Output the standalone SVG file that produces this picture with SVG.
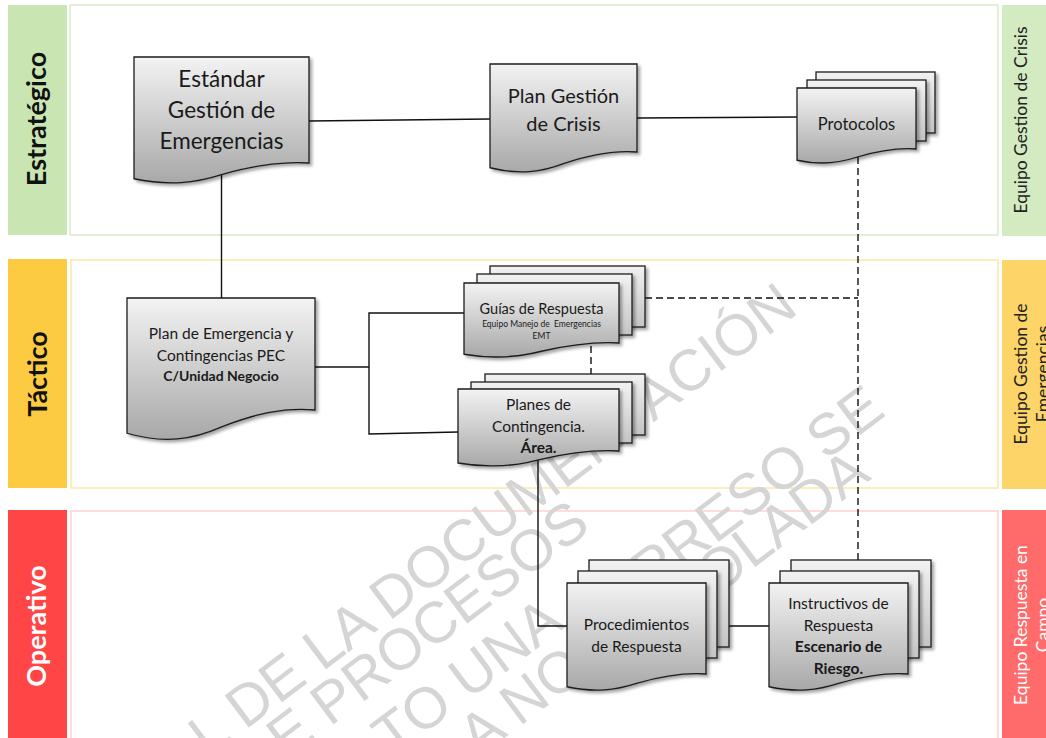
<svg xmlns="http://www.w3.org/2000/svg" width="1046" height="738" viewBox="0 0 1046 738">
<defs>
<linearGradient id="gf" x1="0" y1="0" x2="0" y2="1"><stop offset="0" stop-color="#F3F3F3"/><stop offset="1" stop-color="#A8A8A8"/></linearGradient>
<linearGradient id="gb" x1="0" y1="0" x2="0" y2="1"><stop offset="0" stop-color="#F2F2F2"/><stop offset="1" stop-color="#C4C4C4"/></linearGradient>
<filter id="sh" x="-10%" y="-10%" width="130%" height="130%"><feDropShadow dx="2.5" dy="2.5" stdDeviation="1.8" flood-color="#000" flood-opacity="0.35"/></filter>
<style>
.doc{fill:url(#gf);stroke:#1c1c1c;stroke-width:1.3;filter:url(#sh)}
.sheet{fill:url(#gb);stroke:#1c1c1c;stroke-width:1.3;filter:url(#sh)}
.t{font-family:Lato,"Liberation Sans",sans-serif;fill:#1a1a1a;text-anchor:middle}
.b{font-weight:bold}
.lane{fill:#fff;stroke-width:1.5}
.ll{font-family:Lato,"Liberation Sans",sans-serif;font-weight:bold;font-size:27px;text-anchor:middle}
.rl{font-family:Lato,"Liberation Sans",sans-serif;font-size:17.5px;text-anchor:middle}
.c{fill:none;stroke:#111;stroke-width:1.4}
.d{fill:none;stroke:#111;stroke-width:1.4;stroke-dasharray:7 4}
.wm{font-family:"Liberation Sans",Arial,sans-serif;font-size:58px;fill:#D5D5D5}
</style>
</defs>
<g id="lanes">
<rect class="lane" x="70" y="5" width="928" height="230" stroke="#D9EBCC"/>
<rect class="lane" x="71" y="260" width="927" height="228" stroke="#FDE6A8"/>
<rect class="lane" x="71" y="511" width="927" height="240" stroke="#FFCFCF"/>
<rect x="8" y="5" width="59" height="230" fill="#C9E5B1"/>
<rect x="8" y="259" width="59" height="229" fill="#FDCB41"/>
<rect x="8" y="510" width="59" height="240" fill="#FF4545"/>
<rect x="1002" y="5" width="50" height="231" fill="#D4EBC2"/>
<rect x="1002" y="260" width="50" height="229" fill="#FCD468"/>
<rect x="1002" y="510" width="50" height="240" fill="#FF6B6B"/>
<text class="ll" fill="#111" transform="translate(46,119) rotate(-90)">Estratégico</text>
<text class="ll" fill="#111" transform="translate(47,374) rotate(-90)">Táctico</text>
<text class="ll" fill="#fff" transform="translate(46,626) rotate(-90)">Operativo</text>
<text class="rl" fill="#222" transform="translate(1027,120) rotate(-90)">Equipo Gestion de Crisis</text>
<text class="rl" fill="#222" transform="translate(1027,374) rotate(-90)">Equipo Gestion de</text>
<text class="rl" fill="#222" transform="translate(1049,374) rotate(-90)">Emergencias</text>
<text class="rl" fill="#fff" transform="translate(1027,625) rotate(-90)">Equipo Respuesta en</text>
<text class="rl" fill="#fff" transform="translate(1049,625) rotate(-90)">Campo</text>
</g>
<g id="watermark">
<text class="wm" transform="translate(208,758) rotate(-37)">L DE LA DOCUMENTACIÓN</text>
<text class="wm" font-size="62" transform="translate(286,760) rotate(-37)">E PROCESOS</text>
<text class="wm" transform="translate(392,758) rotate(-37)">TO UNA</text>
<text class="wm" transform="translate(612,622) rotate(-37)">MPRESO SE</text>
<text class="wm" transform="translate(478,758) rotate(-37)">A NO</text>
<text class="wm" transform="translate(682,622) rotate(-37)">ROLADA</text>
</g>
<g id="connectors">
<path class="c" d="M309,121 L490,119"/>
<path class="c" d="M637,118 L797,117"/>
<path class="c" d="M221.5,175 V298"/>
<path class="c" d="M315,367 H369"/>
<path class="c" d="M464,313 H369 V434 L458,432"/>
<path class="c" d="M538,460 V626 H567"/>
<path class="c" d="M729,626 H769"/>
<path class="d" d="M858,157 V560"/>
<path class="d" d="M645,298 H858"/>
<path class="d" d="M591,346 V374"/>
</g>
<g id="n-estandar">
<path class="doc" d="M134,57 H309 V163 C279.25,160.9 251.25,166.15 221.5,174.55 C195.25,182.95 169,186.1 134,178.75 Z"/>
<text class="t" font-size="22.5" x="221.5" y="87">Estándar</text>
<text class="t" font-size="22.5" x="221.5" y="118">Gestión de</text>
<text class="t" font-size="22.5" x="221.5" y="149">Emergencias</text>
</g>
<g id="n-plancrisis">
<path class="doc" d="M490,64 H637 V152 C612,149.9 588.5,155.15 563.5,163.55 C541.5,171.95 519.4,175.1 490,167.75 Z"/>
<text class="t" font-size="20" x="563.5" y="103">Plan Gestión</text>
<text class="t" font-size="20" x="563.5" y="131">de Crisis</text>
</g>
<g id="n-protocolos">
<rect class="sheet" x="816" y="72" width="119" height="61"/>
<rect class="sheet" x="807" y="80" width="119" height="61"/>
<path class="doc" d="M797,88 H916 V149 C895.8,147.5 876.7,151.25 856.5,157.25 C838.65,163.25 820.8,165.5 797,160.25 Z"/>
<text class="t" font-size="16.5" x="856.5" y="130">Protocolos</text>
</g>
<g id="n-pec">
<path class="doc" d="M127,298 H315 V410 C283,406.9 253,414.65 221,427.05 C192.8,439.45 164.6,444.1 127,433.25 Z"/>
<text class="t" font-size="15.5" x="221" y="339">Plan de Emergencia y</text>
<text class="t" font-size="15.5" x="221" y="361">Contingencias PEC</text>
<text class="t b" font-size="14" x="221" y="381">C/Unidad Negocio</text>
</g>
<g id="n-guias">
<rect class="sheet" x="490" y="266" width="155" height="61"/>
<rect class="sheet" x="477" y="274" width="155" height="61"/>
<path class="doc" d="M464,283 H619 V343 C592.65,341.5 567.85,345.25 541.5,351.25 C518.25,357.25 495,359.5 464,354.25 Z"/>
<text class="t" font-size="14.5" x="541.5" y="314">Guías de Respuesta</text>
<text class="t" font-size="8.5" x="541.5" y="327" xml:space="preserve">Equipo Manejo de  Emergencias</text>
<text class="t" font-size="8.5" x="541.5" y="339">EMT</text>
</g>
<g id="n-planes">
<rect class="sheet" x="485" y="374" width="160" height="61"/>
<rect class="sheet" x="471" y="382" width="161" height="61"/>
<path class="doc" d="M458,389 H619 V451 C591.63,449.4 565.87,453.4 538.5,459.8 C514.35,466.2 490.2,468.6 458,463 Z"/>
<text class="t" font-size="15.5" x="538.5" y="410">Planes de</text>
<text class="t" font-size="15.5" x="538.5" y="432">Contingencia.</text>
<text class="t b" font-size="15.5" x="538.5" y="453">Área.</text>
</g>
<g id="n-procedimientos">
<rect class="sheet" x="589" y="560" width="140" height="87"/>
<rect class="sheet" x="578" y="571" width="139" height="87"/>
<path class="doc" d="M567,583 H706 V674 C682.37,672.3 660.13,676.55 636.5,683.35 C615.65,690.15 594.8,692.7 567,686.75 Z"/>
<text class="t" font-size="15.5" x="636.5" y="630">Procedimientos</text>
<text class="t" font-size="15.5" x="636.5" y="652">de Respuesta</text>
</g>
<g id="n-instructivos">
<rect class="sheet" x="791" y="560" width="140" height="87"/>
<rect class="sheet" x="780" y="571" width="139" height="87"/>
<path class="doc" d="M769,583 H908 V674 C884.37,672.3 862.13,676.55 838.5,683.35 C817.65,690.15 796.8,692.7 769,686.75 Z"/>
<text class="t" font-size="15.5" x="838.5" y="609">Instructivos de</text>
<text class="t" font-size="15.5" x="838.5" y="631">Respuesta</text>
<text class="t b" font-size="15.5" x="838.5" y="652">Escenario de</text>
<text class="t b" font-size="15.5" x="838.5" y="674">Riesgo.</text>
</g>
</svg>
